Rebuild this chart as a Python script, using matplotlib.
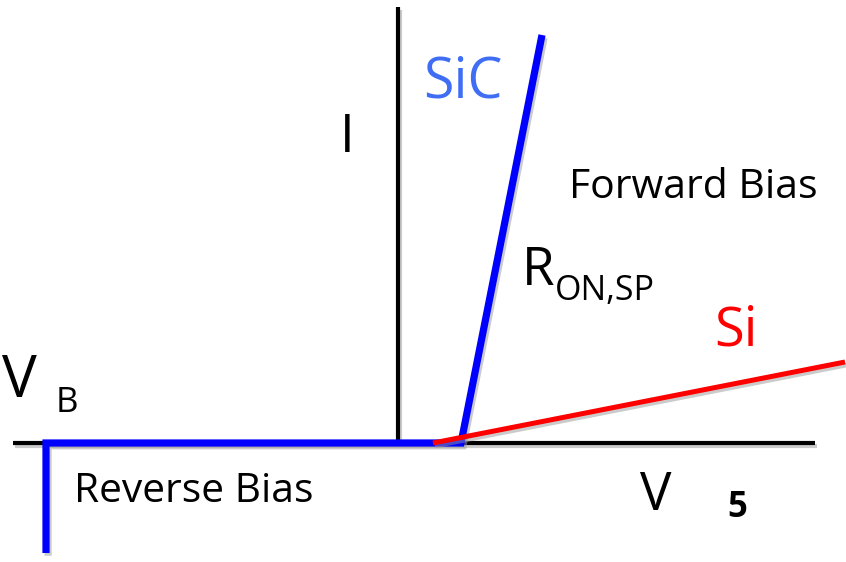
import matplotlib.pyplot as plt
import matplotlib.patheffects as pe

FONT = "Open Sans"

# schematic coordinates (image pixel units, y downward)
axis_h_x = [13, 815]
axis_h_y = [443, 443]
axis_v_x = [398, 398]
axis_v_y = [7, 443]

sic_x = [46, 46, 461, 542]
sic_y = [553, 443, 443, 35]

si_x = [433, 845]
si_y = [443, 362]

fig = plt.figure(figsize=(8.46, 5.62), dpi=100)
ax = fig.add_axes([0, 0, 1, 1])
ax.set_xlim(0, 846)
ax.set_ylim(562, 0)
ax.set_axis_off()

shadow = [pe.SimpleLineShadow(offset=(1.5, -2), shadow_color="0.6", alpha=0.5), pe.Normal()]

ax.plot(axis_h_x, axis_h_y, color="black", lw=3.0, solid_capstyle="butt", path_effects=shadow)
ax.plot(axis_v_x, axis_v_y, color="black", lw=3.0, solid_capstyle="butt", path_effects=shadow)
ax.plot(sic_x, sic_y, color="#0000ff", lw=5.2, solid_capstyle="butt", solid_joinstyle="miter",
        path_effects=shadow)
ax.plot(si_x, si_y, color="#ff0000", lw=3.6, solid_capstyle="butt", path_effects=shadow)

def txt(x, y, s, size, color="black", weight="normal"):
    ax.text(x, y, s, fontsize=size, color=color, fontweight=weight,
            family=FONT, ha="left", va="baseline")

txt(423, 97, "SiC", 40, color="#3f6ef5")
txt(340, 152, "I", 38)
txt(569, 198, "Forward Bias", 29.5)
txt(522, 285, "R", 38)
txt(555, 300, "ON,SP", 24.5)
txt(714, 346, "Si", 39, color="#ff0000")
txt(2, 397, "V", 42)
txt(56, 412, "B", 25)
txt(74, 502, "Reverse Bias", 29.3)
txt(640, 510, "V", 38)
txt(727, 517, "5", 25, weight="bold")

fig.savefig("out.png", dpi=100)
